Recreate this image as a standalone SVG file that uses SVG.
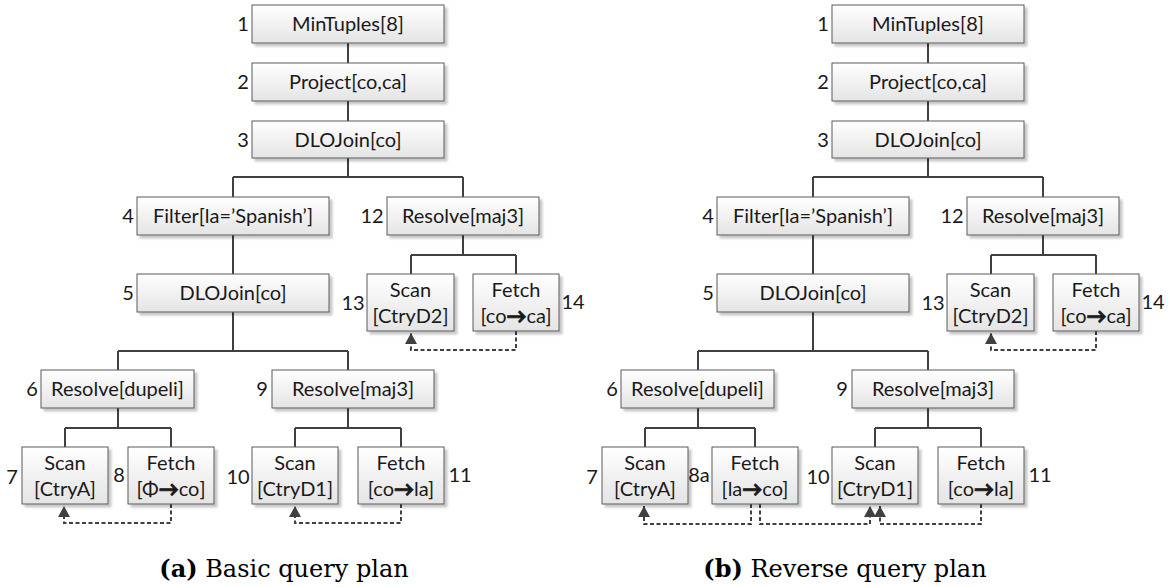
<svg xmlns="http://www.w3.org/2000/svg" width="1174" height="587" viewBox="0 0 1174 587">
  <defs>
    <linearGradient id="boxFill" x1="0" y1="0" x2="0" y2="1">
      <stop offset="0" stop-color="#ffffff"/>
      <stop offset="1" stop-color="#e4e4e4"/>
    </linearGradient>
    <filter id="shadow" x="-10%" y="-10%" width="130%" height="140%">
      <feDropShadow dx="3" dy="3" stdDeviation="1" flood-color="#000" flood-opacity="0.22"/>
    </filter>
    <marker id="arrow" markerUnits="userSpaceOnUse" markerWidth="14" markerHeight="14" refX="11" refY="6" orient="auto">
      <path d="M0,0 L11,6 L0,12 Z" fill="#404040"/>
    </marker>
  </defs>
  <style>
    rect.box { fill: url(#boxFill); stroke: #5a5a5a; stroke-width: 1; filter: url(#shadow); }
    text { font-family: Lato, "Liberation Sans", sans-serif; font-size: 20px; fill: #1a1a1a; }
    text.t { text-anchor: middle; }
    text.n { text-anchor: middle; }
    tspan.ar { font-weight: bold; stroke: #1a1a1a; stroke-width: 0.9; }
    text.cap { font-family: "DejaVu Serif", "Liberation Serif", serif; font-size: 24px; fill: #000; text-anchor: middle; }
    .edge { fill: none; stroke: #404040; stroke-width: 2; }
    .dep { fill: none; stroke: #404040; stroke-width: 2; stroke-dasharray: 4 2.5; marker-end: url(#arrow); }
  </style>

  <rect width="1174" height="587" fill="#ffffff"/>

  <!-- (a) basic plan: tree edges -->
  <g id="edges-a">
    <path class="edge" d="M348,43 V63 M348,101 V121 M348,158 V177 M233,177 H463 M233,177 V197 M463,177 V197"/>
    <path class="edge" d="M233,235 V274 M233,312 V351 M118,351 H348 M118,351 V370 M348,351 V370"/>
    <path class="edge" d="M463,235 V255 M411,255 H516 M411,255 V274 M516,255 V274"/>
    <path class="edge" d="M118,408 V428 M65,428 H171 M65,428 V447 M171,428 V447"/>
    <path class="edge" d="M348,408 V428 M295,428 H401 M295,428 V447 M401,428 V447"/>
    <path class="dep" d="M171,504 V523 H64 V506"/>
    <path class="dep" d="M401,504 V523 H295 V506"/>
    <path class="dep" d="M516,331 V350 H411 V333"/>
  </g>

  <!-- (a) operators -->
  <g id="a1"><rect class="box" x="252" y="5" width="192" height="38"/><text class="t" x="348" y="31">MinTuples[8]</text><text class="n" x="243" y="31">1</text></g>
  <g id="a2"><rect class="box" x="252" y="63" width="192" height="38"/><text class="t" x="348" y="89">Project[co,ca]</text><text class="n" x="243" y="89">2</text></g>
  <g id="a3"><rect class="box" x="252" y="121" width="192" height="37"/><text class="t" x="348" y="147">DLOJoin[co]</text><text class="n" x="243" y="147">3</text></g>
  <g id="a4"><rect class="box" x="137" y="197" width="192" height="38"/><text class="t" x="233" y="223">Filter[la=’Spanish’]</text><text class="n" x="128" y="223">4</text></g>
  <g id="a12"><rect class="box" x="387" y="197" width="152" height="38"/><text class="t" x="463" y="223">Resolve[maj3]</text><text class="n" x="372" y="223">12</text></g>
  <g id="a5"><rect class="box" x="137" y="274" width="192" height="38"/><text class="t" x="233" y="300">DLOJoin[co]</text><text class="n" x="128" y="300">5</text></g>
  <g id="a13"><rect class="box" x="367" y="274" width="87" height="57"/><text class="t" x="410.5" y="297">Scan</text><text class="t" x="410.5" y="323">[CtryD2]</text><text class="n" x="353" y="310">13</text></g>
  <g id="a14"><rect class="box" x="473" y="274" width="86" height="57"/><text class="t" x="516" y="297">Fetch</text><text class="t" x="516" y="323">[co<tspan class="ar">→</tspan>ca]</text><text class="n" x="573" y="309">14</text></g>
  <g id="a6"><rect class="box" x="41" y="370" width="153" height="38"/><text class="t" x="117.5" y="396">Resolve[dupeli]</text><text class="n" x="32" y="396">6</text></g>
  <g id="a9"><rect class="box" x="272" y="370" width="162" height="38"/><text class="t" x="353" y="396">Resolve[maj3]</text><text class="n" x="262" y="396">9</text></g>
  <g id="a7"><rect class="box" x="22" y="447" width="86" height="57"/><text class="t" x="65" y="470">Scan</text><text class="t" x="65" y="496">[CtryA]</text><text class="n" x="12" y="484">7</text></g>
  <g id="a8"><rect class="box" x="128" y="447" width="86" height="57"/><text class="t" x="171" y="470">Fetch</text><text class="t" x="171" y="496">[Φ<tspan class="ar">→</tspan>co]</text><text class="n" x="119" y="482">8</text></g>
  <g id="a10"><rect class="box" x="252" y="447" width="86" height="57"/><text class="t" x="295" y="470">Scan</text><text class="t" x="295" y="496">[CtryD1]</text><text class="n" x="238" y="484">10</text></g>
  <g id="a11"><rect class="box" x="358" y="447" width="86" height="57"/><text class="t" x="401" y="470">Fetch</text><text class="t" x="401" y="496">[co<tspan class="ar">→</tspan>la]</text><text class="n" x="460" y="482">11</text></g>

  <!-- (b) reverse plan: tree edges -->
  <g id="edges-b">
    <path class="edge" d="M928,43 V63 M928,101 V121 M928,158 V177 M813,177 H1043 M813,177 V197 M1043,177 V197"/>
    <path class="edge" d="M813,235 V274 M813,312 V351 M698,351 H928 M698,351 V370 M928,351 V370"/>
    <path class="edge" d="M1043,235 V255 M991,255 H1096 M991,255 V274 M1096,255 V274"/>
    <path class="edge" d="M698,408 V428 M645,428 H755 M645,428 V447 M755,428 V447"/>
    <path class="edge" d="M928,408 V428 M875,428 H981 M875,428 V447 M981,428 V447"/>
    <path class="dep" d="M751,504 V524 H644 V506"/>
    <path class="dep" d="M760,504 V524 H870 V506"/>
    <path class="dep" d="M981,504 V524 H880 V506"/>
    <path class="dep" d="M1096,331 V350 H991 V333"/>
  </g>

  <!-- (b) operators -->
  <g id="b1"><rect class="box" x="832" y="5" width="192" height="38"/><text class="t" x="928" y="31">MinTuples[8]</text><text class="n" x="823" y="31">1</text></g>
  <g id="b2"><rect class="box" x="832" y="63" width="192" height="38"/><text class="t" x="928" y="89">Project[co,ca]</text><text class="n" x="823" y="89">2</text></g>
  <g id="b3"><rect class="box" x="832" y="121" width="192" height="37"/><text class="t" x="928" y="147">DLOJoin[co]</text><text class="n" x="823" y="147">3</text></g>
  <g id="b4"><rect class="box" x="717" y="197" width="192" height="38"/><text class="t" x="813" y="223">Filter[la=’Spanish’]</text><text class="n" x="708" y="223">4</text></g>
  <g id="b12"><rect class="box" x="967" y="197" width="152" height="38"/><text class="t" x="1043" y="223">Resolve[maj3]</text><text class="n" x="952" y="223">12</text></g>
  <g id="b5"><rect class="box" x="717" y="274" width="192" height="38"/><text class="t" x="813" y="300">DLOJoin[co]</text><text class="n" x="708" y="300">5</text></g>
  <g id="b13"><rect class="box" x="947" y="274" width="87" height="57"/><text class="t" x="990.5" y="297">Scan</text><text class="t" x="990.5" y="323">[CtryD2]</text><text class="n" x="933" y="310">13</text></g>
  <g id="b14"><rect class="box" x="1053" y="274" width="86" height="57"/><text class="t" x="1096" y="297">Fetch</text><text class="t" x="1096" y="323">[co<tspan class="ar">→</tspan>ca]</text><text class="n" x="1153" y="309">14</text></g>
  <g id="b6"><rect class="box" x="621" y="370" width="153" height="38"/><text class="t" x="697.5" y="396">Resolve[dupeli]</text><text class="n" x="612" y="396">6</text></g>
  <g id="b9"><rect class="box" x="852" y="370" width="162" height="38"/><text class="t" x="933" y="396">Resolve[maj3]</text><text class="n" x="842" y="396">9</text></g>
  <g id="b7"><rect class="box" x="602" y="447" width="86" height="57"/><text class="t" x="645" y="470">Scan</text><text class="t" x="645" y="496">[CtryA]</text><text class="n" x="592" y="484">7</text></g>
  <g id="b8a"><rect class="box" x="712" y="447" width="86" height="57"/><text class="t" x="755" y="470">Fetch</text><text class="t" x="755" y="496">[la<tspan class="ar">→</tspan>co]</text><text class="n" x="699" y="482">8a</text></g>
  <g id="b10"><rect class="box" x="832" y="447" width="86" height="57"/><text class="t" x="875" y="470">Scan</text><text class="t" x="875" y="496">[CtryD1]</text><text class="n" x="818" y="484">10</text></g>
  <g id="b11"><rect class="box" x="938" y="447" width="86" height="57"/><text class="t" x="981" y="470">Fetch</text><text class="t" x="981" y="496">[co<tspan class="ar">→</tspan>la]</text><text class="n" x="1040" y="482">11</text></g>

  <!-- captions -->
  <text class="cap" x="284" y="577"><tspan font-weight="bold">(a)</tspan> Basic query plan</text>
  <text class="cap" x="845" y="577"><tspan font-weight="bold">(b)</tspan> Reverse query plan</text>
</svg>
